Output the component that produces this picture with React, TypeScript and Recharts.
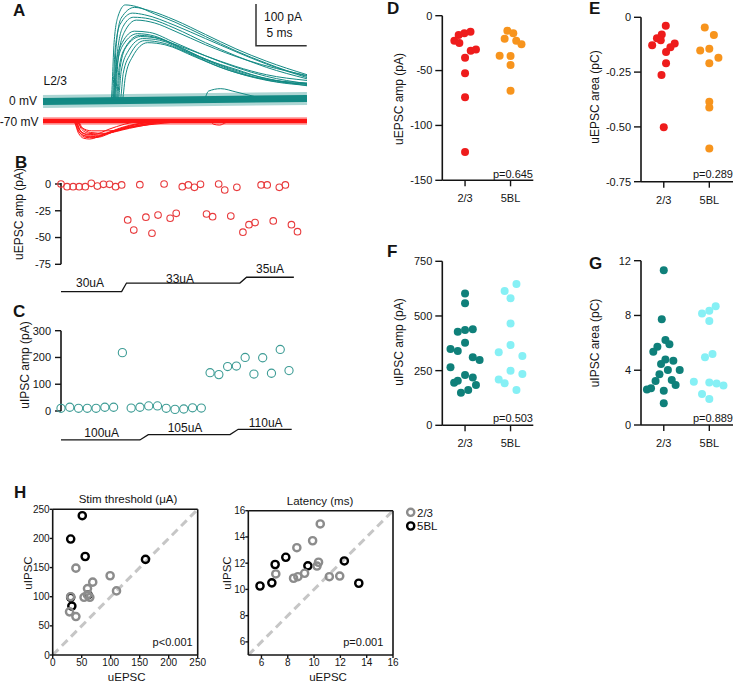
import React from 'react';
import { ScatterChart, Scatter, XAxis, YAxis, LineChart, Line, ReferenceLine } from 'recharts';

const FONT = '"Liberation Sans", Arial, Helvetica, sans-serif';

// ---------- Panel A: example traces [time (ms), current (pA)] ----------
const trace0mV_1 = [[0, 0], [6.7, 0], [7.0, 140], [7.4, 205], [8.1, 232], [9.2, 228], [11, 210], [13, 190], [16, 155], [19, 120], [22, 90], [24, 72], [26, 58]];
const trace0mV_2 = [[0, 0], [6.9, 0], [7.2, 130], [7.7, 200], [9.0, 226], [10.5, 218], [13, 195], [16, 160], [19, 125], [22, 95], [26, 62]];
const trace0mV_3 = [[0, 0], [6.8, 0], [7.1, 120], [7.6, 185], [8.8, 212], [10, 208], [13, 182], [16, 150], [19, 118], [22, 88], [26, 55]];
const trace0mV_4 = [[0, 0], [7.0, 0], [7.3, 110], [7.9, 180], [8.9, 202], [10.5, 198], [13, 175], [16, 140], [19, 108], [22, 80], [26, 52]];
const trace0mV_5 = [[0, 0], [7.1, 0], [7.4, 100], [8.0, 165], [9.2, 195], [11, 188], [13, 168], [16, 135], [20, 98], [26, 60]];
const trace0mV_6 = [[0, 0], [6.9, 0], [7.2, 90], [7.8, 140], [9.0, 168], [10.5, 165], [13, 140], [16, 108], [19, 80], [22, 58], [26, 40]];
const trace0mV_7 = [[0, 0], [7.0, 0], [7.3, 85], [7.9, 135], [9.3, 162], [11, 156], [13, 135], [16, 100], [19, 75], [22, 52], [26, 38]];
const trace0mV_8 = [[0, 0], [7.2, 0], [7.5, 80], [8.1, 128], [9.5, 158], [11.5, 150], [14, 122], [17, 90], [20, 65], [23, 48], [26, 35]];
const trace0mV_9 = [[0, 0], [7.4, 0], [7.7, 70], [8.4, 120], [9.8, 150], [11.5, 146], [14, 120], [17, 88], [20, 62], [23, 45], [26, 40]];
const trace0mV_10 = [[0, 0], [7.6, 0], [7.9, 65], [8.6, 112], [10, 145], [12, 138], [14, 118], [17, 85], [20, 60], [23, 44], [26, 36]];
const trace0mV_11 = [[0, 0], [7.8, 0], [8.1, 55], [8.8, 105], [10.3, 140], [12, 135], [15, 105], [18, 75], [21, 55], [26, 42]];
const trace0mV_12 = [[0, 0], [7.3, 0], [7.6, 80], [8.2, 130], [9.6, 155], [11, 152], [13, 136], [16, 108], [19, 82], [22, 62], [26, 48]];
const trace0mV_13 = [[0, 0], [15.8, 0], [16.3, 22], [17.5, 28], [19, 20], [21, 8], [23, 0], [26, 0]];
const traces0mV = [trace0mV_1, trace0mV_2, trace0mV_3, trace0mV_4, trace0mV_5, trace0mV_6, trace0mV_7, trace0mV_8, trace0mV_9, trace0mV_10, trace0mV_11, trace0mV_12, trace0mV_13];
const baseline0mV = [[0, -3], [26, 4]];

const trace70mV_1 = [[0, 0], [3.0, 0], [3.5, -30], [4.0, -42], [4.6, -44], [6, -32], [8, -14], [10, -4], [12, 0], [26, 0]];
const trace70mV_2 = [[0, 0], [3.1, 0], [3.6, -28], [4.2, -40], [5, -41], [6.5, -28], [8.5, -12], [11, -2], [13, 0], [26, 0]];
const trace70mV_3 = [[0, 0], [3.0, 0], [3.5, -25], [4.1, -36], [5.2, -38], [7, -24], [9, -10], [11, -2], [26, 0]];
const trace70mV_4 = [[0, 0], [3.2, 0], [3.7, -24], [4.4, -34], [5.5, -35], [7.5, -22], [10, -8], [13, 0], [26, 0]];
const trace70mV_5 = [[0, 0], [3.3, 0], [3.8, -20], [4.5, -30], [5.8, -32], [8, -18], [10.5, -6], [13, 0], [26, 0]];
const trace70mV_6 = [[0, 0], [3.1, 0], [3.6, -22], [4.3, -32], [5, -33], [6.5, -20], [8, -8], [10, 0], [26, 0]];
const trace70mV_7 = [[0, 0], [3.4, 0], [3.9, -18], [4.7, -28], [6, -30], [8.5, -18], [11, -6], [14, 0], [26, 0]];
const trace70mV_8 = [[0, 0], [3.2, 0], [3.7, -26], [4.3, -38], [5.3, -40], [7, -26], [9.5, -10], [12, -2], [26, 0]];
const trace70mV_9 = [[0, 0], [16.4, 0], [16.8, -8], [17.4, -10], [18, -4], [18.6, 0], [26, 0]];
const trace70mV_10 = [[0, 0], [3.3, 0], [3.8, -16], [4.8, -24], [6.5, -24], [9, -14], [12, -5], [15, 0], [26, 0]];
const traces70mV = [trace70mV_1, trace70mV_2, trace70mV_3, trace70mV_4, trace70mV_5, trace70mV_6, trace70mV_7, trace70mV_8, trace70mV_9, trace70mV_10];
const baseline70mV = [[0, 0], [26, 0]];

// ---------- Panel B: uEPSC amplitude per sweep ----------
const bAmps = [0, -2.5, -2.5, -2.5, -2.5, 0.6, -1.9, -0.3, -0.3, -2.5, -0.9, -33.6, -43, -0.6, -31, -46, -29, 0, -32, -27.4,
  -2.5, -0.9, -3.1, -0.3, -28, -30.5, 0, -5.6, -30, -3.1, -45, -38, -36, -0.9, -0.9, -34.5, -3.1, -0.9, -38, -44.5];
const bTicks = [0, -25, -50, -75];
const bStimSweep = [1, 11, 11.8, 30.5, 31.6, 39.4];
const bStimCurrent = [30, 30, 33, 33, 35, 35];

// ---------- Panel C: uIPSC amplitude per sweep ----------
const cAmps = [10, 14, 10, 10, 10, 14, 14, 218, 11, 14, 19, 19, 10, 6, 7.5, 12, 11, 143, 136, 166, 168, 200, 138, 199, 141, 230, 151];
const cTicks = [0, 100, 200, 300];
const cStimSweep = [1, 10, 10.95, 20.27, 21.2, 27.3];
const cStimCurrent = [100, 100, 105, 105, 110, 110];

// ---------- Panels D-G: [jitter, value] ----------
const groups = ['2/3', '5BL'];
const d23 = [[-0.235, -22.8], [-0.14, -17.6], [-0.015, -16.1], [0.12, -14.6], [-0.125, -24.9], [0, -38.3], [0.125, -31.9], [0.24, -30.7], [0, -52.5], [0, -74.4], [0, -124.2]];
const d5bl = [[-0.07, -13.7], [0.06, -16.1], [-0.13, -20.9], [0.125, -22.8], [0.24, -26.1], [-0.24, -36.4], [0, -36.7], [0, -44.9], [0, -68.3]];
const e23 = [[0.044, -0.038], [-0.044, -0.078], [-0.15, -0.096], [-0.066, -0.105], [-0.255, -0.128], [0.24, -0.12], [0.146, -0.137], [0.05, -0.158], [0.05, -0.21], [-0.05, -0.263], [0, -0.502]];
const e5bl = [[-0.1, -0.047], [0.1, -0.081], [-0.2, -0.152], [0, -0.143], [0.2, -0.184], [0, -0.21], [0, -0.385], [0, -0.411], [0, -0.598]];
const f23 = [[0, 603], [0, 558], [-0.16, 428], [0, 436], [0.17, 439], [0, 378], [-0.32, 349], [-0.16, 340], [0.17, 311], [0.32, 299], [-0.32, 265], [0, 230], [0.17, 219], [-0.16, 204], [-0.24, 195], [0.24, 184], [-0.09, 149], [0.07, 162]];
const f5bl = [[0.13, 646], [-0.13, 614], [0, 581], [0, 466], [0, 367], [-0.26, 334], [0.26, 317], [0, 250], [0.26, 235], [-0.26, 210], [-0.13, 192], [0.13, 162]];
const g23 = [[0, 11.3], [-0.044, 7.73], [0.036, 6.2], [0.124, 5.89], [-0.14, 5.72], [-0.23, 5.35], [0.036, 4.79], [0.21, 4.69], [-0.06, 4.45], [0.09, 4.01], [0.35, 4.01], [-0.095, 3.7], [0.175, 3.28], [-0.18, 3.21], [0.26, 2.92], [-0.28, 2.68], [-0.37, 2.6], [0, 2.5], [0, 1.58]];
const g5bl = [[0.14, 8.68], [0, 8.34], [-0.16, 8.15], [0, 7.59], [0.07, 5.18], [-0.095, 4.94], [-0.34, 3.16], [0, 3.11], [0.16, 3.04], [0.31, 2.89], [-0.16, 2.26], [0, 1.9]];
const dTicks = [0, -50, -100, -150];
const eTicks = [0, -0.25, -0.5, -0.75];
const fTicks = [0, 250, 500, 750];
const gTicks = [0, 4, 8, 12];

// ---------- Panel H: [uEPSC, uIPSC] ----------
const hStim23 = [[40, 149], [69, 125], [60, 114], [99, 136], [110, 110], [54, 99], [64, 99], [31, 100], [60, 103], [29, 74], [40, 66]];
const hStim5bl = [[51, 239], [31, 199], [56, 169], [160, 164], [31, 99], [33, 84], [61, 103]];
const hLat23 = [[10.47, 14.99], [9.89, 13.71], [8.69, 13.18], [7.09, 11.18], [10.34, 12.07], [10.22, 11.78], [8.44, 10.85], [8.77, 10.97], [9.28, 11.23], [11.16, 10.97], [11.95, 11.02]];
const hLat5bl = [[5.89, 10.26], [6.79, 10.5], [7.04, 11.9], [7.85, 12.45], [9.53, 11.8], [12.3, 12.17], [13.4, 10.47]];
const hStimTicks = [0, 50, 100, 150, 200, 250];
const hLatTicks = [6, 8, 10, 12, 14, 16];

// ---------- colours ----------
const TEAL_TRACE = '#138a84';
const RED_TRACE = '#ff1414';
const RED = '#ee1c1c';
const ORANGE = '#f7941d';
const TEAL = '#0f807a';
const CYAN = '#86f0f5';
const INK = '#141414';

const toTV = (arr: number[][]) => arr.map(([t, v]) => ({ t, v }));
const toXY = (arr: number[][], g: number) => arr.map(([j, y]) => ({ x: g + j, y }));
const pairs = (arr: number[][]) => arr.map(([x, y]) => ({ x, y }));

const axisLine = { stroke: INK, strokeWidth: 1.6 };
const tickLine = { stroke: INK, strokeWidth: 1.4 };
const tick11 = { fill: INK, fontSize: 11, fontFamily: FONT };
const tick10 = { fill: INK, fontSize: 10, fontFamily: FONT };

const filled = (r: number, fill: string) => (p: any) => <circle cx={p.cx} cy={p.cy} r={r} fill={fill} />;
const ring = (r: number, stroke: string, sw: number) => (p: any) => (
  <circle cx={p.cx} cy={p.cy} r={r} fill="none" stroke={stroke} strokeWidth={sw} />
);

const Abs: React.FC<{ l: number; t: number; children: React.ReactNode }> = ({ l, t, children }) => (
  <div style={{ position: 'absolute', left: l, top: t }}>{children}</div>
);

function Traces() {
  return (
    <>
      <Abs l={0} t={0}>
        <LineChart width={320} height={112} margin={{ top: 0, right: 13, bottom: 2, left: 43 }}>
          <XAxis type="number" dataKey="t" domain={[0, 26]} hide />
          <YAxis type="number" dataKey="v" domain={[-24, 244]} hide />
          <Line data={toTV(baseline0mV)} dataKey="v" stroke={TEAL_TRACE} strokeOpacity={0.35} strokeWidth={13} dot={false} isAnimationActive={false} />
          <Line data={toTV(baseline0mV)} dataKey="v" stroke={TEAL_TRACE} strokeWidth={7} dot={false} isAnimationActive={false} />
          {traces0mV.map((tr, i) => (
            <Line key={i} data={toTV(tr)} dataKey="v" type="monotone" stroke={TEAL_TRACE} strokeWidth={1} dot={false} isAnimationActive={false} />
          ))}
        </LineChart>
      </Abs>
      <Abs l={0} t={110}>
        <LineChart width={320} height={35} margin={{ top: 4.85, right: 13, bottom: 5.14, left: 43 }}>
          <XAxis type="number" dataKey="t" domain={[0, 26]} hide />
          <YAxis type="number" dataKey="v" domain={[-46, 15]} hide />
          <Line data={toTV(baseline70mV)} dataKey="v" stroke={RED_TRACE} strokeOpacity={0.35} strokeWidth={8} dot={false} isAnimationActive={false} />
          <Line data={toTV(baseline70mV)} dataKey="v" stroke={RED_TRACE} strokeWidth={4.5} dot={false} isAnimationActive={false} />
          {traces70mV.map((tr, i) => (
            <Line key={i} data={toTV(tr)} dataKey="v" type="monotone" stroke={RED_TRACE} strokeWidth={1} dot={false} isAnimationActive={false} />
          ))}
        </LineChart>
      </Abs>
    </>
  );
}

function SweepPanel(props: {
  top: number; amps: number[]; domainX: [number, number]; domainY: [number, number]; ticks: number[];
  mTop: number; mBottom: number; mRight: number; color: string; r: number;
  stimTop: number; stimSweep: number[]; stimCurrent: number[]; stimDomainX: [number, number]; stimDomainY: [number, number];
  stimMTop: number; stimMBottom: number; stimMRight: number;
}) {
  const data = props.amps.map((a, i) => ({ sweep: i + 1, amp: a }));
  const stim = props.stimSweep.map((s, i) => ({ sweep: s, cur: props.stimCurrent[i] }));
  return (
    <>
      <Abs l={0} t={props.top}>
        <ScatterChart width={305} height={100} margin={{ top: props.mTop, right: props.mRight, bottom: props.mBottom, left: 0 }}>
          <XAxis type="number" dataKey="sweep" domain={props.domainX} hide />
          <YAxis type="number" dataKey="amp" domain={props.domainY} ticks={props.ticks} interval={0} width={61}
            tickSize={6} tickMargin={4} axisLine={axisLine} tickLine={tickLine} tick={tick11} />
          <Scatter data={data} shape={ring(props.r, props.color, 1.1)} isAnimationActive={false} />
        </ScatterChart>
      </Abs>
      <Abs l={0} t={props.stimTop}>
        <LineChart width={305} height={30} data={stim} margin={{ top: props.stimMTop, right: props.stimMRight, bottom: props.stimMBottom, left: 61 }}>
          <XAxis type="number" dataKey="sweep" domain={props.stimDomainX} hide />
          <YAxis type="number" dataKey="cur" domain={props.stimDomainY} hide />
          <Line dataKey="cur" type="linear" stroke={INK} strokeWidth={1.3} dot={false} isAnimationActive={false} />
        </LineChart>
      </Abs>
    </>
  );
}

function GroupPanel(props: {
  l: number; t: number; w: number; yw: number; mTop: number; mRight: number; xh: number;
  domainX: [number, number]; domainY: [number, number]; ticks: number[]; fmt?: (v: number) => string;
  a: number[][]; b: number[][]; ca: string; cb: string;
}) {
  return (
    <Abs l={props.l} t={props.t}>
      <ScatterChart width={props.w} height={215} margin={{ top: props.mTop, right: props.mRight, bottom: 0, left: 0 }}>
        <XAxis type="number" dataKey="x" domain={props.domainX} ticks={[1, 2]} interval={0} height={props.xh}
          tickFormatter={(v: number) => groups[v - 1]} tickSize={6} tickMargin={8}
          axisLine={axisLine} tickLine={tickLine} tick={tick11} />
        <YAxis type="number" dataKey="y" domain={props.domainY} ticks={props.ticks} interval={0} width={props.yw}
          tickFormatter={props.fmt} tickSize={7} tickMargin={3} axisLine={axisLine} tickLine={tickLine} tick={tick11} />
        <Scatter data={toXY(props.a, 1)} shape={filled(4, props.ca)} isAnimationActive={false} />
        <Scatter data={toXY(props.b, 2)} shape={filled(4, props.cb)} isAnimationActive={false} />
      </ScatterChart>
    </Abs>
  );
}

function XYPanel(props: {
  l: number; yw: number; mTop: number; mRight: number; domain: [number, number]; ticks: number[];
  a: number[][]; b: number[][];
}) {
  const d = props.domain;
  return (
    <Abs l={props.l} t={495}>
      <ScatterChart width={210} height={187} margin={{ top: props.mTop, right: props.mRight, bottom: 0, left: 0 }}>
        <XAxis type="number" dataKey="x" domain={d} ticks={props.ticks} interval={0} height={27}
          tickSize={3} tickMargin={1} axisLine={axisLine} tickLine={tickLine} tick={tick10} />
        <YAxis type="number" dataKey="y" domain={d} ticks={props.ticks} interval={0} width={props.yw}
          tickSize={3} tickMargin={0} axisLine={axisLine} tickLine={tickLine} tick={tick10} />
        <XAxis xAxisId="top" orientation="top" mirror type="number" domain={d} allowDataOverflow ticks={props.ticks} interval={0}
          tick={false} tickSize={6} axisLine={axisLine} tickLine={tickLine} />
        <YAxis yAxisId="right" orientation="right" mirror type="number" domain={d} allowDataOverflow ticks={props.ticks} interval={0}
          tick={false} tickSize={6} axisLine={axisLine} tickLine={tickLine} />
        <ReferenceLine segment={[{ x: d[0], y: d[0] }, { x: d[1], y: d[1] }]} stroke="#c6c6c6" strokeWidth={3} strokeDasharray="8 5" />
        <Scatter data={pairs(props.b)} shape={ring(3.6, '#000000', 2.4)} isAnimationActive={false} />
        <Scatter data={pairs(props.a)} shape={ring(3.6, '#8c8c8c', 2.4)} isAnimationActive={false} />
      </ScatterChart>
    </Abs>
  );
}

const T: React.FC<{ x: number; y: number; s?: number; a?: 'start' | 'middle' | 'end'; b?: boolean; rot?: boolean; children: React.ReactNode }> =
  ({ x, y, s = 12, a = 'start', b = false, rot = false, children }) => (
    <text x={rot ? 0 : x} y={rot ? 0 : y} transform={rot ? `translate(${x},${y}) rotate(-90)` : undefined}
      fontSize={s} fontFamily={FONT} fontWeight={b ? 700 : 400} textAnchor={a}
      dominantBaseline={b ? 'auto' : 'central'} fill={INK}>{children}</text>
  );

function Overlay() {
  return (
    <svg width={734} height={682} style={{ position: 'absolute', left: 0, top: 0, pointerEvents: 'none' }}>
      {/* panel letters */}
      <T x={13} y={16} s={17} b>A</T>
      <T x={15} y={168} s={17} b>B</T>
      <T x={13} y={317} s={17} b>C</T>
      <T x={387} y={14} s={17} b>D</T>
      <T x={589} y={14} s={17} b>E</T>
      <T x={387} y={257} s={17} b>F</T>
      <T x={589} y={269} s={17} b>G</T>
      <T x={14} y={498} s={17} b>H</T>
      {/* panel A annotations */}
      <path d="M256,4 L256,45.7 L306.7,45.7" fill="none" stroke="#333" strokeWidth={1.5} />
      <T x={264} y={17}>100 pA</T>
      <T x={266.5} y={32.5}>5 ms</T>
      <T x={43.5} y={81}>L2/3</T>
      <T x={37} y={100.5} a="end">0 mV</T>
      <T x={38.5} y={121.5} a="end">-70 mV</T>
      {/* B / C */}
      <T x={19} y={214} a="middle" rot>uEPSC amp (pA)</T>
      <T x={25} y={365} a="middle" rot>uIPSC amp (pA)</T>
      <T x={90} y={283} a="middle">30uA</T>
      <T x={180} y={279} a="middle">33uA</T>
      <T x={270} y={269} a="middle">35uA</T>
      <T x={101.7} y={433} a="middle">100uA</T>
      <T x={185} y={428} a="middle">105uA</T>
      <T x={265.7} y={422.7} a="middle">110uA</T>
      {/* D-G */}
      <T x={399.3} y={99} a="middle" rot>uEPSC amp (pA)</T>
      <T x={595} y={97} a="middle" rot>uEPSC area (pC)</T>
      <T x={399.3} y={342} a="middle" rot>uIPSC amp (pA)</T>
      <T x={595} y={343} a="middle" rot>uIPSC area (pC)</T>
      <T x={533} y={174} s={11} a="end">p=0.645</T>
      <T x={733} y={174} s={11} a="end">p=0.289</T>
      <T x={533} y={418.3} s={11} a="end">p=0.503</T>
      <T x={733} y={418.3} s={11} a="end">p=0.889</T>
      {/* H */}
      <T x={128} y={499.3} s={11.5} a="middle">Stim threshold (μA)</T>
      <T x={320} y={500.7} s={11.5} a="middle">Latency (ms)</T>
      <T x={126.7} y={676.5} s={11.5} a="middle">uEPSC</T>
      <T x={328} y={676.5} s={11.5} a="middle">uEPSC</T>
      <T x={27.5} y={573} s={11.5} a="middle" rot>uIPSC</T>
      <T x={226.7} y={573} s={11.5} a="middle" rot>uIPSC</T>
      <T x={192.7} y={641.7} s={11} a="end">p&lt;0.001</T>
      <T x={383.3} y={641.7} s={11} a="end">p=0.001</T>
      <circle cx={410.7} cy={512.3} r={3.6} fill="none" stroke="#8c8c8c" strokeWidth={2.4} />
      <circle cx={410.7} cy={526} r={3.6} fill="none" stroke="#000" strokeWidth={2.4} />
      <T x={417} y={512.5} s={11.5}>2/3</T>
      <T x={417} y={526} s={11.5}>5BL</T>
    </svg>
  );
}

export default function App() {
  return (
    <div style={{ position: 'absolute', left: 0, top: 0, width: 734, height: 682, background: '#fff', overflow: 'hidden', fontFamily: FONT }}>
      <Traces />
      <SweepPanel top={170} amps={bAmps} domainX={[1, 40]} domainY={[-75, 1]} ticks={bTicks}
        mTop={12.93} mBottom={5.7} mRight={7.5} color="#e83a3c" r={3.3}
        stimTop={270} stimSweep={bStimSweep} stimCurrent={bStimCurrent} stimDomainX={[1, 40]} stimDomainY={[28.5, 36.83]}
        stimMTop={2} stimMBottom={4} stimMRight={7.5} />
      <SweepPanel top={320} amps={cAmps} domainX={[1, 27]} domainY={[0, 300]} ticks={cTicks}
        mTop={10.7} mBottom={9} mRight={16} color="#3d9c95" r={4.1}
        stimTop={420} stimSweep={cStimSweep} stimCurrent={cStimCurrent} stimDomainX={[1, 27.3]} stimDomainY={[95.3, 114]}
        stimMTop={5} stimMBottom={5} stimMRight={13.3} />
      <GroupPanel l={380} t={0} w={160} yw={62.3} mTop={15.7} mRight={6.7} xh={34.7}
        domainX={[0.5, 2.5]} domainY={[-150, 0]} ticks={dTicks} a={d23} b={d5bl} ca={RED} cb={ORANGE} />
      <GroupPanel l={580} t={0} w={154} yw={61} mTop={17.3} mRight={1} xh={33.3}
        domainX={[0.5, 2.52]} domainY={[-0.75, 0]} ticks={eTicks} fmt={(v: number) => (v === 0 ? '0' : v.toFixed(2))}
        a={e23} b={e5bl} ca={RED} cb={ORANGE} />
      <GroupPanel l={380} t={245} w={160} yw={62.3} mTop={16.3} mRight={6.7} xh={34.7}
        domainX={[0.5, 2.5]} domainY={[0, 750]} ticks={fTicks} a={f23} b={f5bl} ca={TEAL} cb={CYAN} />
      <GroupPanel l={580} t={245} w={154} yw={61} mTop={15.7} mRight={1} xh={35}
        domainX={[0.5, 2.52]} domainY={[0, 12]} ticks={gTicks} a={g23} b={g5bl} ca={TEAL} cb={CYAN} />
      <XYPanel l={0} yw={52.7} mTop={14.3} mRight={12.3} domain={[0, 250]} ticks={hStimTicks} a={hStim23} b={hStim5bl} />
      <XYPanel l={200} yw={48.3} mTop={15.7} mRight={17} domain={[5, 16]} ticks={hLatTicks} a={hLat23} b={hLat5bl} />
      <Overlay />
    </div>
  );
}
